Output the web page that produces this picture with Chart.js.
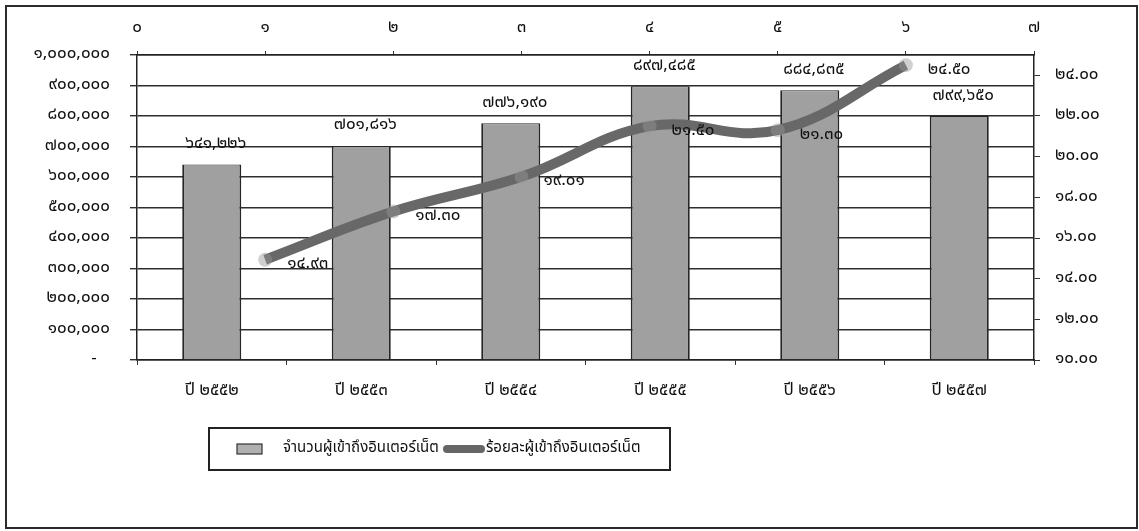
<!DOCTYPE html>
<html>
<head>
<meta charset="utf-8">
<script src="https://cdn.jsdelivr.net/npm/chart.js@4.4.1/dist/chart.umd.min.js"></script>
<style>
  html, body { margin: 0; padding: 0; background: #fff; }
  #wrap { position: relative; width: 1139px; height: 531px; }
  #frame { position: absolute; left: 5px; top: 5px; width: 1133px; height: 524px; box-sizing: border-box; border: 2px solid #2b2b2b; pointer-events: none; }
</style>
</head>
<body>
<div id="wrap">
  <canvas id="myChart" width="1139" height="531"></canvas>
  <div id="frame"></div>
</div>
<script>
const years = ["ปี ๒๕๕๒", "ปี ๒๕๕๓", "ปี ๒๕๕๔", "ปี ๒๕๕๕", "ปี ๒๕๕๖", "ปี ๒๕๕๗"];
const internetUsers = [641226, 701816, 776190, 897485, 884835, 799650];
const internetPercent = [14.93, 17.30, 19.01, 21.50, 21.30, 24.50];
const percentTopPos = [1, 2, 3, 4, 5, 6];

const usersLabel = "จำนวนผู้เข้าถึงอินเตอร์เน็ต";
const percentLabel = "ร้อยละผู้เข้าถึงอินเตอร์เน็ต";

const thaiFont = "'Noto Sans Thai', Tahoma, 'DejaVu Sans', sans-serif";
const thaiNums = "๐๑๒๓๔๕๖๗๘๙";

function toThai(str) {
    return String(str).replace(/[0-9]/g, d => thaiNums[d]);
}

// labels above bars and next to the line points
const valueLabels = {
    id: "valueLabels",
    afterDatasetsDraw(chart) {
        const ctx = chart.ctx;
        ctx.save();
        ctx.font = "17px " + thaiFont;
        ctx.fillStyle = "#111";
        ctx.textBaseline = "middle";
        chart.getDatasetMeta(1).data.forEach((bar, i) => {
            ctx.textAlign = "center";
            ctx.fillText(toThai(internetUsers[i].toLocaleString("en-US")), bar.x + 4, bar.y - 20);
        });
        chart.getDatasetMeta(0).data.forEach((pt, i) => {
            ctx.textAlign = "left";
            ctx.fillText(toThai(internetPercent[i].toFixed(2)), pt.x + 22, pt.y + 5);
        });
        ctx.restore();
    }
};

// boxed legend under the plot
const boxLegend = {
    id: "boxLegend",
    afterDraw(chart) {
        const ctx = chart.ctx;
        const area = chart.chartArea;
        const left = area.left + 72;
        const top = area.bottom + 68;
        const cy = top + 21;
        ctx.save();
        ctx.strokeStyle = "#222";
        ctx.lineWidth = 2;
        ctx.strokeRect(left, top, 461, 42);

        ctx.fillStyle = "#b0b0b0";
        ctx.fillRect(left + 28, cy - 5, 25, 10);
        ctx.strokeStyle = "#333";
        ctx.lineWidth = 1.2;
        ctx.strokeRect(left + 28, cy - 5, 25, 10);

        ctx.strokeStyle = "#666";
        ctx.lineWidth = 8;
        ctx.lineCap = "round";
        ctx.beginPath();
        ctx.moveTo(left + 238, cy);
        ctx.lineTo(left + 272, cy);
        ctx.stroke();

        ctx.fillStyle = "#111";
        ctx.font = "15px " + thaiFont;
        ctx.textAlign = "left";
        ctx.textBaseline = "middle";
        ctx.fillText(chart.data.datasets[1].label, left + 74, cy);
        ctx.fillText(chart.data.datasets[0].label, left + 277, cy);
        ctx.restore();
    }
};

function printTheChart() {
    const ctx = document.getElementById("myChart").getContext("2d");
    const tickFont = { family: thaiFont, size: 17 };
    const chart = new Chart(ctx, {
        type: "bar",
        data: {
            labels: years,
            datasets: [{
                type: "line",
                label: percentLabel,
                data: internetPercent.map((v, i) => ({ x: percentTopPos[i], y: v })),
                xAxisID: "x2",
                yAxisID: "y1",
                borderColor: "#686868",
                borderWidth: 10,
                tension: 0.4,
                pointRadius: 7,
                pointBackgroundColor: "rgba(150,150,150,0.45)",
                pointBorderWidth: 0,
                order: 0
            }, {
                type: "bar",
                label: usersLabel,
                data: internetUsers,
                xAxisID: "x",
                yAxisID: "y",
                grouped: false,
                backgroundColor: "#a0a0a0",
                borderColor: "#262626",
                borderWidth: { left: 1.8, right: 1.8, top: 1, bottom: 0 },
                categoryPercentage: 1,
                barPercentage: 0.395,
                order: 1
            }]
        },
        options: {
            responsive: false,
            animation: false,
            layout: { padding: 0 },
            plugins: {
                legend: { display: false },
                tooltip: { enabled: false }
            },
            scales: {
                x: {
                    position: "bottom",
                    grid: { drawOnChartArea: false, tickLength: 5, color: "#333" },
                    border: { color: "#222", width: 1.5 },
                    ticks: { font: tickFont, color: "#111", padding: 16 },
                    afterFit: (scale) => { scale.height = 171; }
                },
                x2: {
                    type: "linear",
                    position: "top",
                    min: 0,
                    max: 7,
                    offset: false,
                    grid: { offset: false, drawOnChartArea: false, tickLength: 4, color: "#333" },
                    border: { color: "#222", width: 1.5 },
                    ticks: { stepSize: 1, font: tickFont, color: "#111", padding: 12, callback: (v) => toThai(v) },
                    afterFit: (scale) => { scale.height = 55; }
                },
                y: {
                    position: "left",
                    min: 0,
                    max: 1000000,
                    grid: { color: "#2e2e2e", lineWidth: 1.4, tickLength: 7 },
                    border: { color: "#222", width: 1.5 },
                    ticks: {
                        stepSize: 100000,
                        font: tickFont,
                        color: "#111",
                        padding: 20,
                        callback: (v) => v === 0 ? "-   " : toThai(v.toLocaleString("en-US"))
                    },
                    afterFit: (scale) => { scale.width = 137; }
                },
                y1: {
                    position: "right",
                    min: 10,
                    max: 25,
                    grid: { drawOnChartArea: false, tickLength: 6, color: "#333" },
                    border: { color: "#222", width: 1.5 },
                    ticks: { stepSize: 2, font: tickFont, color: "#111", padding: 15, callback: (v) => toThai(v.toFixed(2)) },
                    afterBuildTicks: (scale) => { scale.ticks = scale.ticks.filter(t => t.value % 2 === 0); },
                    afterFit: (scale) => { scale.width = 105; }
                }
            }
        },
        plugins: [valueLabels, boxLegend]
    });
}

printTheChart();
</script>
</body>
</html>
